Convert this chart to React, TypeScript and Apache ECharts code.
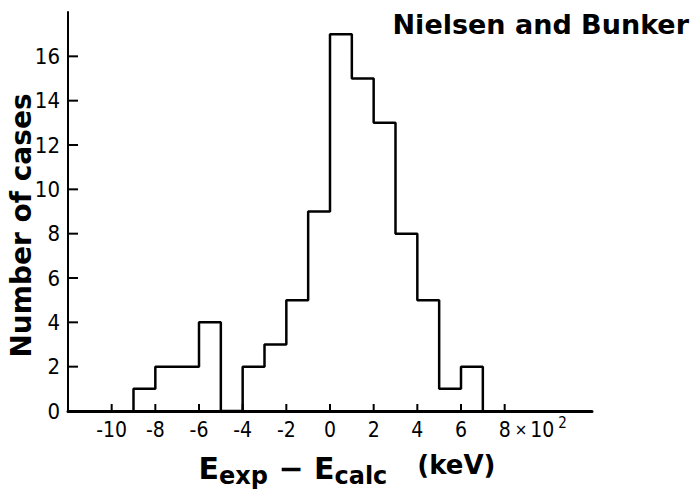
import React, { useEffect, useRef } from "react";
import * as echarts from "echarts";

const binEdges = [-9, -8, -7, -6, -5, -4, -3, -2, -1, 0, 1, 2, 3, 4, 5, 6, 7];
const counts = [1, 2, 2, 4, 0, 2, 3, 5, 9, 17, 15, 13, 8, 5, 1, 2];
const xTickValues = [-10, -8, -6, -4, -2, 0, 2, 4, 6, 8];
const yLabelValues = [0, 2, 4, 6, 8, 10, 12, 14, 16];
const yTickValues = [2, 4, 6, 8, 10, 12, 14, 16];
const titleText = "Nielsen and Bunker";
const yName = "Number of cases";

const TICK_FONT = "'Liberation Sans Narrow', 'DejaVu Sans Condensed', 'Noto Sans', sans-serif";
const MAIN_FONT = "'DejaVu Sans', sans-serif";

export default function App() {
  const ref = useRef<HTMLDivElement>(null);
  useEffect(() => {
    if (!ref.current) return;
    const chart = echarts.init(ref.current, null, { renderer: "svg" });
    const outline: number[][] = [[binEdges[0], 0]];
    counts.forEach((c, i) => {
      outline.push([binEdges[i], c]);
      outline.push([binEdges[i + 1], c]);
    });
    outline.push([binEdges[binEdges.length - 1], 0]);

    chart.setOption({
      animation: false,
      backgroundColor: "#ffffff",
      title: {
        text: titleText,
        right: 6,
        top: 6,
        textStyle: { fontFamily: MAIN_FONT, fontWeight: "bold", fontSize: 27, color: "#000" },
      },
      grid: { left: 68, right: 108, top: 12, bottom: 83, outerBoundsMode: "none", containLabel: false },
      xAxis: {
        type: "value",
        min: -12,
        max: 12,
        interval: 2,
        splitLine: { show: false },
        axisLine: { onZero: false, lineStyle: { color: "#000", width: 3 } },
        axisTick: { show: false },
        axisLabel: {
          margin: 8,
          color: "#000",
          fontFamily: TICK_FONT,
          fontSize: 21,
          formatter: (v: number) => (xTickValues.indexOf(v) >= 0 ? String(v) : ""),
        },
        name: "{m|E}{s|exp}{m| − E}{s|calc}{k|(keV)}",
        nameLocation: "middle",
        nameGap: 37,
        nameTextStyle: {
          padding: [0, 0, 0, 34],
          rich: {
            m: { fontFamily: MAIN_FONT, fontWeight: "bold", fontSize: 30, color: "#000" },
            s: { fontFamily: MAIN_FONT, fontWeight: "bold", fontSize: 24, color: "#000", padding: [16, 0, 0, 0] },
            k: { fontFamily: MAIN_FONT, fontWeight: "bold", fontSize: 26, color: "#000", padding: [0, 0, 6, 30] },
          },
        },
      },
      yAxis: {
        type: "value",
        min: 0,
        max: 18,
        interval: 2,
        splitLine: { show: false },
        axisLine: { onZero: false, lineStyle: { color: "#000", width: 2 } },
        axisTick: { show: false },
        axisLabel: {
          margin: 8,
          color: "#000",
          fontFamily: TICK_FONT,
          fontSize: 22,
          formatter: (v: number) => (yLabelValues.indexOf(v) >= 0 ? String(v) : ""),
        },
      },
      series: [
        {
          type: "line",
          data: outline,
          symbol: "none",
          lineStyle: { color: "#000", width: 2.5 },
          silent: true,
        },
      ],
    });

    const xPix = (v: number) => chart.convertToPixel({ xAxisIndex: 0 }, v) as number;
    const yPix = (v: number) => chart.convertToPixel({ yAxisIndex: 0 }, v) as number;
    const x0 = xPix(-12);
    const y0 = yPix(0);
    const graphics: any[] = [];
    xTickValues.forEach((v) => {
      const px = xPix(v);
      graphics.push({
        type: "rect",
        z: 100,
        silent: true,
        shape: { x: px - 1, y: y0 - 7, width: 2, height: 7 },
        style: { fill: "#000" },
      });
    });
    yTickValues.forEach((v) => {
      const py = yPix(v);
      graphics.push({
        type: "rect",
        z: 100,
        silent: true,
        shape: { x: x0, y: py - 1, width: 10, height: 2 },
        style: { fill: "#000" },
      });
    });
    graphics.push({
      type: "text",
      x: xPix(8) + 10,
      y: y0 + 19,
      style: {
        text: "{x|×}{n|10}{s|2}",
        verticalAlign: "middle",
        rich: {
          x: { fontFamily: MAIN_FONT, fontSize: 15, fill: "#000", padding: [0, 3, 0, 0] },
          n: { fontFamily: TICK_FONT, fontSize: 21, fill: "#000" },
          s: { fontFamily: TICK_FONT, fontSize: 15, fill: "#000", padding: [0, 0, 14, 4] },
        },
      },
    });
    graphics.push({
      type: "text",
      x: 21,
      y: (yPix(0) + yPix(18)) / 2 + 14,
      rotation: Math.PI / 2,
      style: {
        text: yName,
        align: "center",
        verticalAlign: "middle",
        fontFamily: MAIN_FONT,
        fontWeight: "bold",
        fontSize: 28,
        fill: "#000",
      },
    });
    chart.setOption({ graphic: graphics });

    return () => chart.dispose();
  }, []);
  return (
    <div
      ref={ref}
      style={{ position: "fixed", left: 0, top: 0, width: 700, height: 494, background: "#fff" }}
    />
  );
}
